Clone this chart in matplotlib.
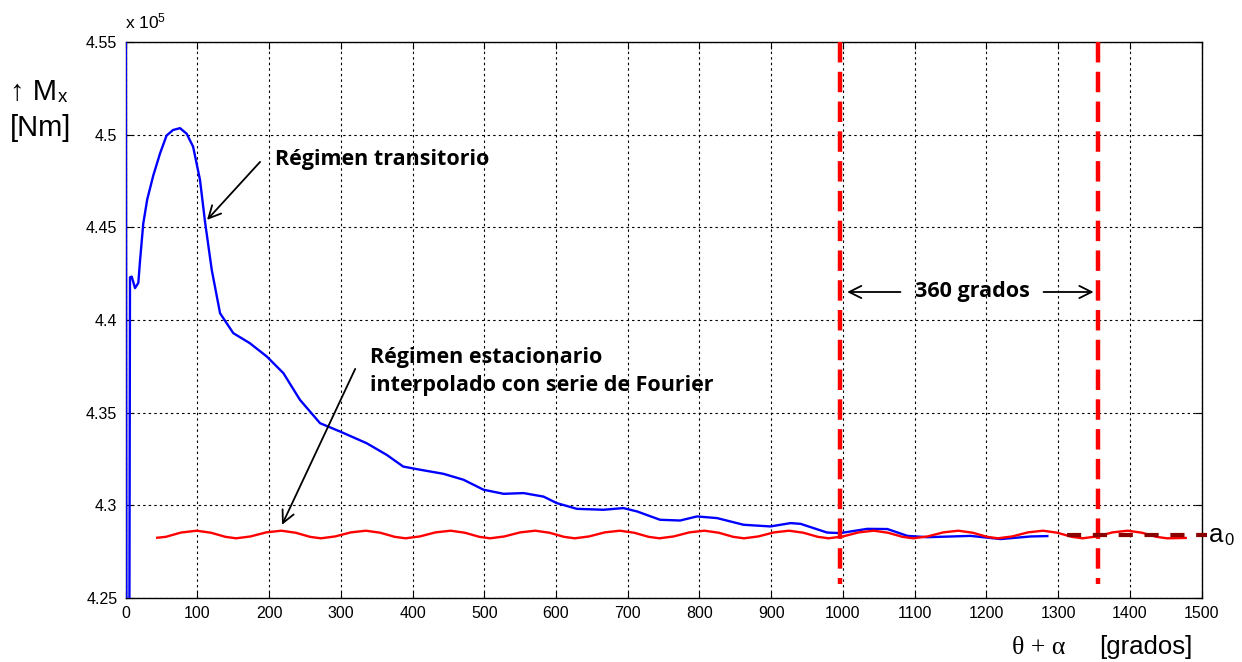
import matplotlib
matplotlib.use('Agg')
from matplotlib import pyplot as plt

plt.rcParams['font.family'] = ['Liberation Sans', 'DejaVu Sans']
plt.rcParams['mathtext.fontset'] = 'custom'
plt.rcParams['mathtext.rm'] = 'Liberation Sans'
plt.rcParams['mathtext.it'] = 'Liberation Sans:italic'

# momento Mx (x 10^5 Nm) frente a theta + alpha (grados)
# regimen transitorio, simulacion completa
theta_trans = [0, 1, 5, 6, 8.4, 13, 17.6, 20, 24.5, 30, 38.5, 48, 57, 66, 75.7, 85,
               94, 103.6, 110.6, 120, 131.6, 150, 173, 196.7, 219.9, 243, 271, 299,
               336, 364, 387, 410.6, 443, 471, 499, 527, 554.7, 582.6, 601, 629, 666,
               694, 713, 745, 773, 796.6, 824.5, 861.6, 899, 927, 941, 978, 996, 1034,
               1062, 1090, 1118, 1178, 1220, 1262, 1285]
mx_trans = [4.62, 4.20, 4.20, 4.423, 4.4234, 4.4172, 4.420, 4.432, 4.452, 4.465,
            4.478, 4.490, 4.4995, 4.5025, 4.5035, 4.5005, 4.4935, 4.4756, 4.4530,
            4.427, 4.4036, 4.3929, 4.3875, 4.3803, 4.3713, 4.3569, 4.3443, 4.3398,
            4.3335, 4.3272, 4.3209, 4.3192, 4.317, 4.3138, 4.3084, 4.3062, 4.3066,
            4.3047, 4.3012, 4.2981, 4.2976, 4.2985, 4.2967, 4.2922, 4.2918, 4.294,
            4.2931, 4.2895, 4.2886, 4.2904, 4.290, 4.2853, 4.285, 4.2873, 4.2872,
            4.2835, 4.2828, 4.2835, 4.2818, 4.2832, 4.2834]

# regimen estacionario (serie de Fourier)
theta_four = [44, 56, 77,
              99, 119, 139, 154, 174, 196,
              217, 237, 257, 272, 292, 314,
              335, 355, 375, 390, 410, 432,
              453, 473, 493, 508, 528, 550,
              571, 591, 611, 626, 646, 668,
              689, 709, 729, 744, 764, 786,
              807, 827, 847, 862, 882, 904,
              925, 945, 965, 980, 1000, 1022,
              1043, 1063, 1083, 1098, 1118, 1140,
              1161, 1181, 1201, 1216, 1236, 1258,
              1279, 1299, 1319, 1334, 1354, 1376,
              1397, 1417, 1437, 1452, 1478]
mx_four = [4.2825, 4.2830, 4.2853,
           4.2863, 4.2852, 4.2830, 4.2822, 4.2832, 4.2854,
           4.2863, 4.2852, 4.2830, 4.2822, 4.2832, 4.2854,
           4.2863, 4.2852, 4.2830, 4.2822, 4.2832, 4.2854,
           4.2863, 4.2852, 4.2830, 4.2822, 4.2832, 4.2854,
           4.2863, 4.2852, 4.2830, 4.2822, 4.2832, 4.2854,
           4.2863, 4.2852, 4.2830, 4.2822, 4.2832, 4.2854,
           4.2863, 4.2852, 4.2830, 4.2822, 4.2832, 4.2854,
           4.2863, 4.2852, 4.2830, 4.2822, 4.2832, 4.2854,
           4.2863, 4.2852, 4.2830, 4.2822, 4.2832, 4.2854,
           4.2863, 4.2852, 4.2830, 4.2822, 4.2832, 4.2854,
           4.2863, 4.2852, 4.2830, 4.2822, 4.2832, 4.2854,
           4.2863, 4.2852, 4.2830, 4.2822, 4.2824]

a0 = 4.2840
a0_theta = [1313, 1508]
periodo = [996.5, 1355]

xticks = list(range(0, 1501, 100))
yticks = [4.25, 4.3, 4.35, 4.4, 4.45, 4.5, 4.55]
ytick_labels = ['4.25', '4.3', '4.35', '4.4', '4.45', '4.5', '4.55']

fig = plt.figure(figsize=(12.42, 6.62), dpi=100)
ax = fig.add_axes([0.1012, 0.0967, 0.8662, 0.8399])

ax.plot(theta_trans, mx_trans, color='#0000ff', lw=1.7, zorder=3)
ax.plot(theta_four, mx_four, color='#ff0000', lw=1.7, zorder=4)

# lineas que marcan un periodo de 360 grados
for t in periodo:
    ax.plot([t, t], [4.55, 4.2575], color='#ff0000', lw=3.2,
            dashes=(4.6, 2.1), zorder=5)

# valor medio a0
ax.plot(a0_theta, [a0, a0], color='#8b0000', lw=3.0, dashes=(3.4, 2.8),
        zorder=6, clip_on=False)

ax.set_xlim(0, 1500)
ax.set_ylim(4.25, 4.55)
ax.set_xticks(xticks)
ax.set_yticks(yticks)
ax.set_yticklabels(ytick_labels)
ax.tick_params(direction='in', length=5, width=0.8, top=True, right=True,
               labelsize=11.5, pad=6)
ax.grid(True, color='black', linestyle=(0, (2.2, 2.8)), lw=0.8)
for s in ax.spines.values():
    s.set_linewidth(1.0)

fig.text(0.1005, 0.952, r'x 10$^5$', fontsize=12.5, ha='left', va='bottom')

# etiquetas de los ejes
fig.text(0.008, 0.849, '\u2191 M', fontsize=21, ha='left', va='baseline')
fig.text(0.0465, 0.846, 'x', fontsize=13.5, ha='left', va='baseline')
fig.text(0.008, 0.794, '[Nm]', fontsize=21, ha='left', va='baseline')
fig.text(0.8145, 0.012, '\u03b8 + \u03b1', family='Liberation Serif', fontsize=18.5,
         ha='left', va='baseline')
fig.text(0.96, 0.012, '[grados]', fontsize=18.5, ha='right', va='baseline')
fig.text(0.9735, 0.181, 'a', fontsize=18.5, ha='left', va='baseline')
fig.text(0.9855, 0.1765, '0', fontsize=12, ha='left', va='baseline')

bold = dict(family=['Open Sans', 'DejaVu Sans'], fontweight='bold', fontsize=15.5)
arrow = dict(arrowstyle='->', color='black', lw=1.3, mutation_scale=22,
             shrinkA=0, shrinkB=0)

ax.text(208, 4.4864, 'Régimen transitorio', ha='left', va='center', **bold)
ax.annotate('', xy=(113.4, 4.454), xytext=(187.4, 4.4853), arrowprops=arrow)

ax.text(341, 4.372, 'Régimen estacionario\ninterpolado con serie de Fourier',
        ha='left', va='center', linespacing=1.45, **bold)
ax.annotate('', xy=(218, 4.2895), xytext=(320, 4.3736), arrowprops=arrow)

ax.text(1180, 4.4151, '360 grados', ha='center', va='center', **bold)
ax.annotate('', xy=(1005.9, 4.4151), xytext=(1080.3, 4.4151), arrowprops=arrow)
ax.annotate('', xy=(1349.5, 4.4151), xytext=(1279.7, 4.4151), arrowprops=arrow)

plt.savefig('out.png', dpi=100)
